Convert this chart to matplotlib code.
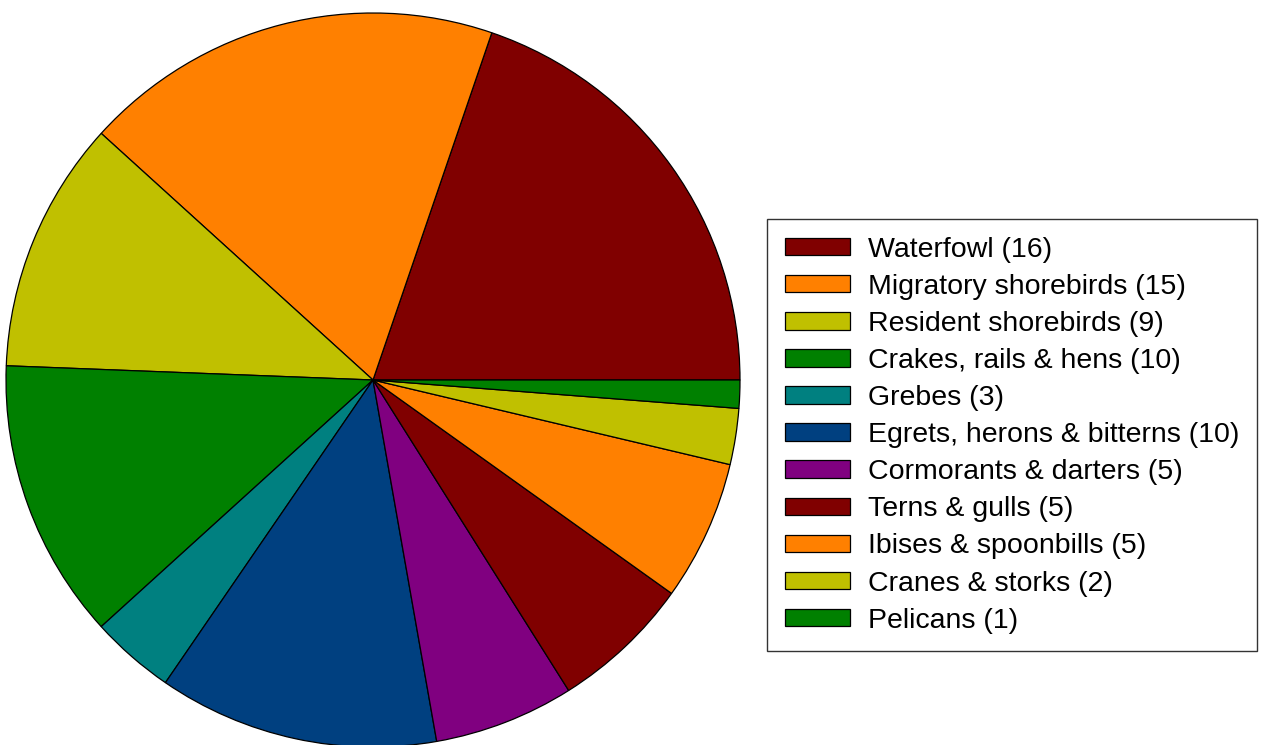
import matplotlib.pyplot as plt
from matplotlib.patches import Patch

# Andmed
nimed = ["Waterfowl", "Migratory shorebirds", "Resident shorebirds",
         "Crakes, rails & hens", "Grebes", "Egrets, herons & bitterns",
         "Cormorants & darters", "Terns & gulls", "Ibises & spoonbills",
         "Cranes & storks", "Pelicans"]
arvud = [16, 15, 9, 10, 3, 10, 5, 5, 5, 2, 1]
varvid = ["#800000", "#ff8000", "#c0c000", "#008000", "#008080", "#004080",
          "#800080", "#800000", "#ff8000", "#c0c000", "#008000"]

plt.rcParams["font.family"] = ["Liberation Sans", "DejaVu Sans"]

fig = plt.figure(figsize=(12.64, 7.45), dpi=100)
# pie center ~ (373, 380) px, raadius ~367 px
ax = fig.add_axes([(373 - 367) / 1264, (365 - 367) / 745, 734 / 1264, 734 / 745])
ax.pie(arvud, colors=varvid, startangle=0, counterclock=True,
       wedgeprops={"edgecolor": "black", "linewidth": 0.9})
ax.set_xlim(-1, 1)
ax.set_ylim(-1, 1)
ax.set_aspect("equal")
ax.axis("off")

sildid = [f"{n} ({a})" for n, a in zip(nimed, arvud)]
kasted = [Patch(facecolor=v, edgecolor="black", linewidth=0.9) for v in varvid]
leg = fig.legend(kasted, sildid, loc="upper left",
                 bbox_to_anchor=(767 / 1264, 1 - 219 / 745),
                 fontsize=20.5, frameon=True, fancybox=False, borderaxespad=0,
                 handlelength=2.28, handleheight=0.57, handletextpad=0.63,
                 labelspacing=0.39, borderpad=0.62)
leg.get_frame().set_edgecolor("black")
leg.get_frame().set_linewidth(1.0)

fig.savefig("out.png", dpi=100)
